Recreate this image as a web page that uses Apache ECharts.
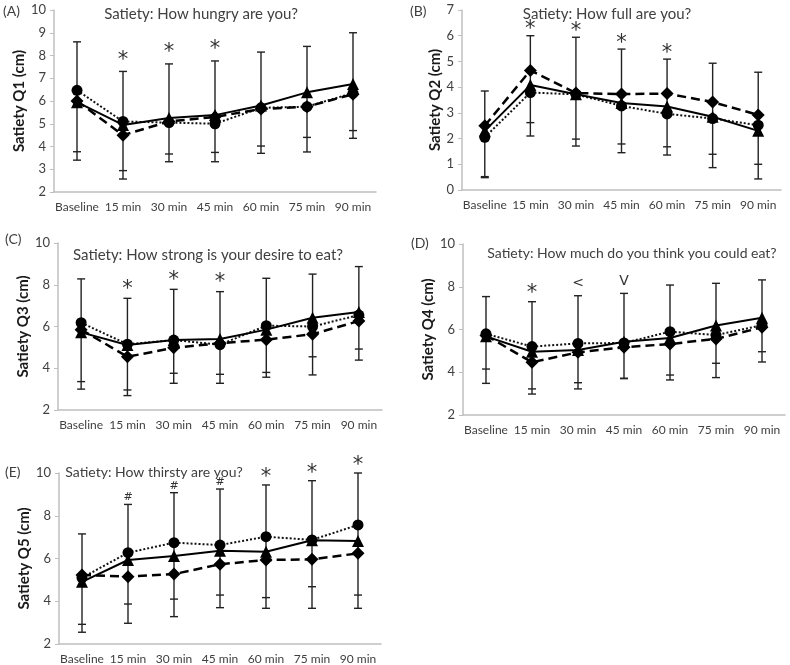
<!DOCTYPE html>
<html><head><meta charset="utf-8">
<script src="https://cdn.jsdelivr.net/npm/echarts@6/dist/echarts.min.js"></script>
<style>html,body{margin:0;padding:0;background:#fff}#c{width:790px;height:665px}</style>
</head><body><div id="c"></div>
<script>
const categories = ['Baseline','15 min','30 min','45 min','60 min','75 min','90 min'];

// Panel A
const solidA = [5.95, 4.95, 5.25, 5.38, 5.8, 6.38, 6.75];
const dotA   = [6.47, 5.1, 5.05, 5.0, 5.7, 5.75, 6.35];
const dashA  = [6.0, 4.5, 5.1, 5.3, 5.65, 5.75, 6.3];
const topA   = [8.6, 7.3, 7.63, 7.76, 8.15, 8.4, 9.0];
const low1A  = [3.77, 2.94, 3.67, 3.74, 4.02, 4.4, 4.7];
const low2A  = [3.4, 2.57, 3.33, 3.33, 3.7, 3.76, 4.36];
const marksA = ['', '*', '*', '*', '', '', ''];
// Panel B
const solidB = [2.3, 4.08, 3.72, 3.38, 3.25, 2.85, 2.3];
const dotB   = [2.05, 3.79, 3.72, 3.27, 2.96, 2.78, 2.52];
const dashB  = [2.5, 4.65, 3.77, 3.73, 3.75, 3.42, 2.92];
const topB   = [3.85, 6.0, 5.94, 5.48, 5.09, 4.93, 4.58];
const low1B  = [0.52, 2.62, 1.98, 1.79, 1.68, 1.39, 1.0];
const low2B  = [0.48, 2.1, 1.71, 1.45, 1.36, 0.87, 0.43];
const marksB = ['', '*', '*', '*', '*', '', ''];
// Panel C
const solidC = [5.72, 5.11, 5.35, 5.4, 5.85, 6.42, 6.7];
const dotC   = [6.18, 5.15, 5.35, 5.13, 6.04, 6.0, 6.55];
const dashC  = [5.85, 4.55, 4.98, 5.2, 5.37, 5.63, 6.26];
const topC   = [8.28, 7.35, 7.78, 7.67, 8.31, 8.51, 8.87];
const low1C  = [3.36, 2.96, 3.76, 3.71, 3.8, 4.55, 4.92];
const low2C  = [3.0, 2.69, 3.28, 3.28, 3.57, 3.68, 4.39];
const marksC = ['', '*', '*', '*', '', '', ''];
// Panel D
const solidD = [5.68, 4.96, 5.04, 5.43, 5.6, 6.19, 6.55];
const dotD   = [5.8, 5.2, 5.35, 5.37, 5.9, 5.74, 6.2];
const dashD  = [5.72, 4.47, 4.93, 5.17, 5.32, 5.56, 6.1];
const topD   = [7.54, 7.3, 7.58, 7.69, 8.08, 8.16, 8.32];
const low1D  = [4.15, 3.22, 3.51, 3.72, 3.87, 4.42, 4.96];
const low2D  = [3.48, 2.98, 3.22, 3.7, 3.64, 3.75, 4.48];
const marksD = ['', '*', '<', 'V', '', '', ''];
// Panel E
const solidE = [4.91, 5.93, 6.12, 6.36, 6.32, 6.85, 6.82];
const dotE   = [5.1, 6.27, 6.74, 6.63, 7.02, 6.87, 7.57];
const dashE  = [5.23, 5.15, 5.27, 5.73, 5.93, 5.96, 6.24];
const topE   = [7.15, 8.53, 9.08, 9.25, 9.44, 9.64, 10.0];
const low1E  = [2.92, 3.87, 4.1, 4.29, 4.17, 4.68, 4.29];
const low2E  = [2.55, 2.97, 3.28, 3.7, 3.67, 3.67, 3.67];
const marksE = ['', '#', '#', '#', '*', '*', '*'];

const FONT = 'Lato';
const panels = [
  {label:'(A)', title:'Satiety: How hungry are you?', yname:'Satiety Q1 (cm)', min:2, max:10, interval:1,
   grid:{left:54, top:10, width:322, height:182}, titlePos:[201, 7], titleSize:15, labelPos:[3, 4], markOff:14,
   solid:solidA, dot:dotA, dash:dashA, top:topA, low1:low1A, low2:low2A, marks:marksA},
  {label:'(B)', title:'Satiety: How full are you?', yname:'Satiety Q2 (cm)', min:0, max:7, interval:1,
   grid:{left:462, top:10, width:319, height:180}, titlePos:[607, 7], titleSize:15, labelPos:[410, 4], markOff:9,
   solid:solidB, dot:dotB, dash:dashB, top:topB, low1:low1B, low2:low2B, marks:marksB},
  {label:'(C)', title:'Satiety: How strong is your desire to eat?', yname:'Satiety Q3 (cm)', min:2, max:10, interval:2,
   grid:{left:58, top:243, width:324, height:167}, titlePos:[208, 248], titleSize:15, labelPos:[5, 232], markOff:12,
   solid:solidC, dot:dotC, dash:dashC, top:topC, low1:low1C, low2:low2C, marks:marksC},
  {label:'(D)', title:'Satiety: How much do you think you could eat?', yname:'Satiety Q4 (cm)', min:2, max:10, interval:2,
   grid:{left:463, top:244, width:322, height:171}, titlePos:[632, 246], titleSize:14, labelPos:[411, 236], markOff:11,
   solid:solidD, dot:dotD, dash:dashD, top:topD, low1:low1D, low2:low2D, marks:marksD},
  {label:'(E)', title:'Satiety: How thirsty are you?', yname:'Satiety Q5 (cm)', min:2, max:10, interval:2,
   grid:{left:59, top:473, width:322, height:171}, titlePos:[154, 465], titleSize:14, labelPos:[5, 465], markOff:10,
   solid:solidE, dot:dotE, dash:dashE, top:topE, low1:low1E, low2:low2E, marks:marksE}
];

function markStyle(m) {
  if (m === '*') return {font:'DejaVu Sans', size:21, shift:3};
  if (m === '#') return {font:'DejaVu Sans', size:11, shift:3};
  return {font:'DejaVu Sans', size:14, shift:-1};
}

const option = {animation:false, backgroundColor:'#fff', grid:[], xAxis:[], yAxis:[], series:[], graphic:[]};
panels.forEach((p, gi) => {
  option.grid.push(p.grid);
  option.xAxis.push({type:'category', gridIndex:gi, data:categories, boundaryGap:true,
    axisLine:{lineStyle:{color:'#bfbfbf', width:1.5}}, axisTick:{show:false},
    axisLabel:{color:'#404040', fontFamily:FONT, fontSize:12, margin:9, interval:0}});
  option.yAxis.push({type:'value', gridIndex:gi, min:p.min, max:p.max, interval:p.interval,
    name:p.yname, nameLocation:'middle', nameGap:19,
    nameTextStyle:{color:'#1a1a1a', fontFamily:FONT, fontWeight:'bold', fontSize:15},
    axisLine:{show:true, lineStyle:{color:'#bfbfbf', width:1.5}},
    axisTick:{show:true, length:4, lineStyle:{color:'#bfbfbf'}},
    splitLine:{show:false},
    axisLabel:{color:'#404040', fontFamily:FONT, fontSize:13, margin:8}});
  option.graphic.push({type:'text', left:p.labelPos[0], top:p.labelPos[1],
    style:{text:p.label, fontFamily:FONT, fontSize:14, fill:'#404040'}});
  option.graphic.push({type:'text', x:p.titlePos[0], y:p.titlePos[1],
    style:{text:p.title, fontFamily:FONT, fontSize:p.titleSize, fill:'#404040', textAlign:'center'}});
  const errData = categories.map((c, i) => [i, p.top[i], p.low1[i], p.low2[i]]);
  option.series.push({type:'custom', xAxisIndex:gi, yAxisIndex:gi, z:1, data:errData,
    renderItem:(params, api) => {
      const i = api.value(0);
      const t = api.coord([i, api.value(1)]);
      const a = api.coord([i, api.value(2)]);
      const b = api.coord([i, api.value(3)]);
      const w = 4;
      const st = {stroke:'#222', lineWidth:1.4};
      const ch = [
        {type:'line', shape:{x1:t[0], y1:t[1], x2:b[0], y2:b[1]}, style:st},
        {type:'line', shape:{x1:t[0]-w, y1:t[1], x2:t[0]+w, y2:t[1]}, style:st},
        {type:'line', shape:{x1:a[0]-w, y1:a[1], x2:a[0]+w, y2:a[1]}, style:st},
        {type:'line', shape:{x1:b[0]-w, y1:b[1], x2:b[0]+w, y2:b[1]}, style:st}
      ];
      const m = p.marks[params.dataIndex];
      if (m) {
        const ms = markStyle(m);
        ch.push({type:'text', x:t[0], y:t[1]-p.markOff+ms.shift,
          style:{text:m, fontFamily:ms.font, fontSize:ms.size, fill:'#333', textAlign:'center', textVerticalAlign:'middle'}});
      }
      return {type:'group', children:ch};
    }});
  option.series.push({type:'line', xAxisIndex:gi, yAxisIndex:gi, z:3, data:p.dot, symbol:'circle', symbolSize:11,
    lineStyle:{color:'#111', width:2, type:[2,2]}, itemStyle:{color:'#000'}});
  option.series.push({type:'line', xAxisIndex:gi, yAxisIndex:gi, z:3, data:p.dash, symbol:'diamond', symbolSize:13,
    lineStyle:{color:'#000', width:2.5, type:[9,5]}, itemStyle:{color:'#000'}});
  option.series.push({type:'line', xAxisIndex:gi, yAxisIndex:gi, z:4, data:p.solid, symbol:'triangle', symbolSize:12,
    lineStyle:{color:'#000', width:2}, itemStyle:{color:'#000'}});
});
const chart = echarts.init(document.getElementById('c'), null, {renderer:'canvas'});
chart.setOption(option);
</script></body></html>
